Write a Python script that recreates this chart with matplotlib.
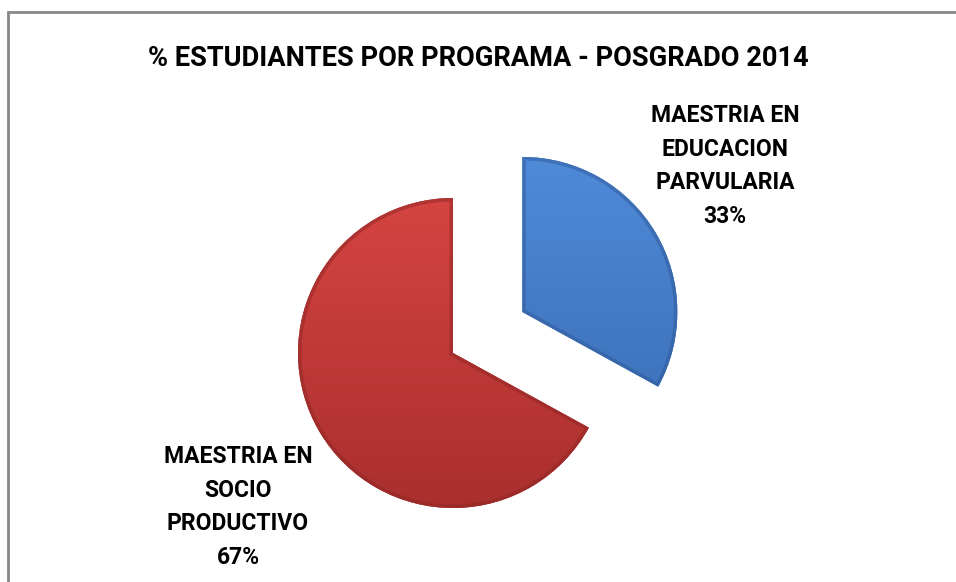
import numpy as np
import matplotlib
matplotlib.use("Agg")
from matplotlib import pyplot as plt
from matplotlib.colors import LinearSegmentedColormap
from matplotlib.patches import Wedge

# datos del grafico
programas = ["MAESTRIA EN\nEDUCACION\nPARVULARIA", "MAESTRIA EN\nSOCIO\nPRODUCTIVO"]
porcentajes = [33, 67]
titulo = "% ESTUDIANTES POR PROGRAMA - POSGRADO 2014"

W, H = 956, 582
fig = plt.figure(figsize=(W / 100, H / 100), dpi=100)
ax = fig.add_axes([0, 0, 1, 1])

radio = 155
centro = (453, H - 353)
wedges, _ = ax.pie(porcentajes, startangle=90, counterclock=False,
                   explode=[0.52 * radio, 0], radius=radio, center=centro,
                   wedgeprops=dict(linewidth=0))
ax.set_xlim(0, W)
ax.set_ylim(0, H)
ax.set_aspect("auto")
ax.axis("off")

# degradados (aprox. al estilo de Excel)
gradientes = [("#4f8ad8", "#3a6cb4", "#2f5a99"), ("#d54441", "#a92f2d", "#8e2625")]
for w, (c1, c2, borde) in zip(wedges, gradientes):
    cmap = LinearSegmentedColormap.from_list("g", [c2, c1])
    cx, cy = w.center
    grad = np.linspace(0, 1, 256).reshape(-1, 1)
    im = ax.imshow(grad, cmap=cmap, origin="lower", aspect="auto",
                   extent=[cx - radio, cx + radio, cy - radio, cy + radio],
                   zorder=2)
    im.set_clip_path(w)
    w.set_facecolor(c2)
    # borde biselado (solo hacia dentro)
    b = Wedge(w.center, w.r, w.theta1, w.theta2, fill=False,
              edgecolor=borde, lw=5, alpha=0.5, zorder=3)
    ax.add_patch(b)
    b.set_clip_path(w)
ax.set_xlim(0, W)
ax.set_ylim(0, H)

fuente = "Roboto"
ax.text(478, H - 58, titulo, ha="center", va="center", fontsize=19.6,
        fontweight="bold", family=fuente)

ax.text(725, H - 166, programas[0] + "\n%d%%" % porcentajes[0], ha="center",
        va="center", fontsize=16.5, fontweight="bold", family=fuente,
        linespacing=1.6)
ax.text(238, H - 507, programas[1] + "\n%d%%" % porcentajes[1], ha="center",
        va="center", fontsize=16.5, fontweight="bold", family=fuente,
        linespacing=1.6)

# marco gris
ax.plot([8, 8, W + 20], [-10, H - 12, H - 12], color="#878787", lw=2,
        clip_on=False, solid_joinstyle="miter")

fig.savefig("out.png", dpi=100)
